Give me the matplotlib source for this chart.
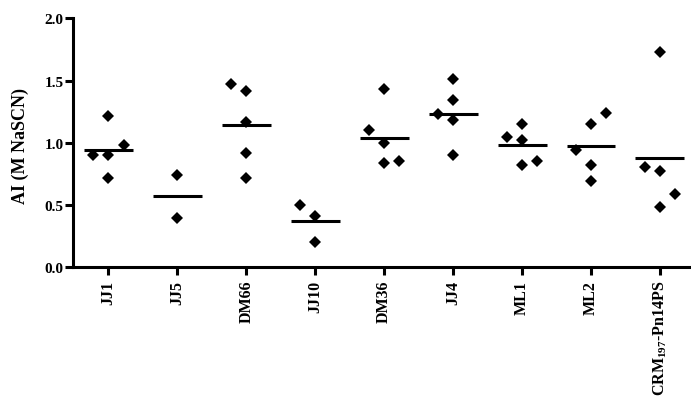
import matplotlib
matplotlib.use('Agg')
import matplotlib.pyplot as plt
import numpy as np

plt.rcParams['font.family'] = ['Liberation Serif', 'DejaVu Serif']
plt.rcParams['font.weight'] = 'bold'
plt.rcParams['mathtext.fontset'] = 'custom'
plt.rcParams['mathtext.rm'] = 'Liberation Serif'

# replicate AI values per conjugate, in entry order
groups = ['JJ1', 'JJ5', 'DM66', 'JJ10', 'DM36', 'JJ4', 'ML1', 'ML2', 'CRM$_{197}$-Pn14PS']
jj1 = [0.72, 1.22, 0.90, 0.90, 0.98]
jj5 = [0.40, 0.745]
dm66 = [0.72, 0.92, 1.17, 1.42, 1.47]
jj10 = [0.205, 0.41, 0.50]
dm36 = [1.43, 0.995, 1.10, 0.835, 0.855]
jj4 = [0.90, 1.185, 1.345, 1.515, 1.23]
ml1 = [1.155, 1.02, 1.05, 0.82, 0.855]
ml2 = [0.695, 0.825, 0.94, 1.155, 1.24]
crm = [1.73, 0.77, 0.805, 0.485, 0.59]
values = [jj1, jj5, dm66, jj10, dm36, jj4, ml1, ml2, crm]

y_ticks = [0.0, 0.5, 1.0, 1.5, 2.0]

step = 0.22      # sideways shift for overlapping points (category units)
overlap = 0.124  # vertical distance under which two diamonds collide
half_width = 0.355


def spread(vals):
    # centre column first; colliding points go left, then right, alternating
    placed = []
    shifts = 0
    for v in vals:
        def free(s):
            return all(abs(v - pv) >= overlap for pv, ps in placed if ps == s)
        if free(0):
            slot = 0
        else:
            order = [-1, 1] if shifts % 2 == 0 else [1, -1]
            slot = next((s for s in order if free(s)), order[0])
            shifts += 1
        placed.append((v, slot))
    return [s for _, s in placed]


fig = plt.figure(figsize=(6.91, 4.02), dpi=100)
ax = fig.add_axes([0.105, 0.3326, 0.895, 0.619])

for i, vals in enumerate(values):
    slots = spread(vals)
    xs = [i + s * step for s in slots]
    ax.plot(xs, vals, 'D', color='black', markersize=6.4, markeredgewidth=0)
    m = np.mean(vals)
    ax.plot([i - half_width, i + half_width], [m, m], color='black', lw=2.2,
            solid_capstyle='butt')

ax.set_xlim(-0.519, 8.45)
ax.set_ylim(0, 2.0)
ax.set_yticks(y_ticks)
ax.set_yticklabels(['%.1f' % t for t in y_ticks], fontsize=11, fontweight='bold')
ax.set_xticks(range(len(groups)))
ax.set_xticklabels(groups, rotation=90, fontsize=11.5, fontweight='bold')
ax.set_ylabel('AI (M NaSCN)', fontsize=13, fontweight='bold')
ax.yaxis.set_label_coords(-0.071, 0.493)

for side in ['top', 'right']:
    ax.spines[side].set_visible(False)
for side in ['left', 'bottom']:
    ax.spines[side].set_linewidth(2.2)
ax.tick_params(axis='both', direction='out', length=6, width=2.2)
ax.tick_params(axis='y', pad=0.5)
ax.tick_params(axis='x', pad=3)

plt.savefig('out.png', dpi=100)
plt.close()
